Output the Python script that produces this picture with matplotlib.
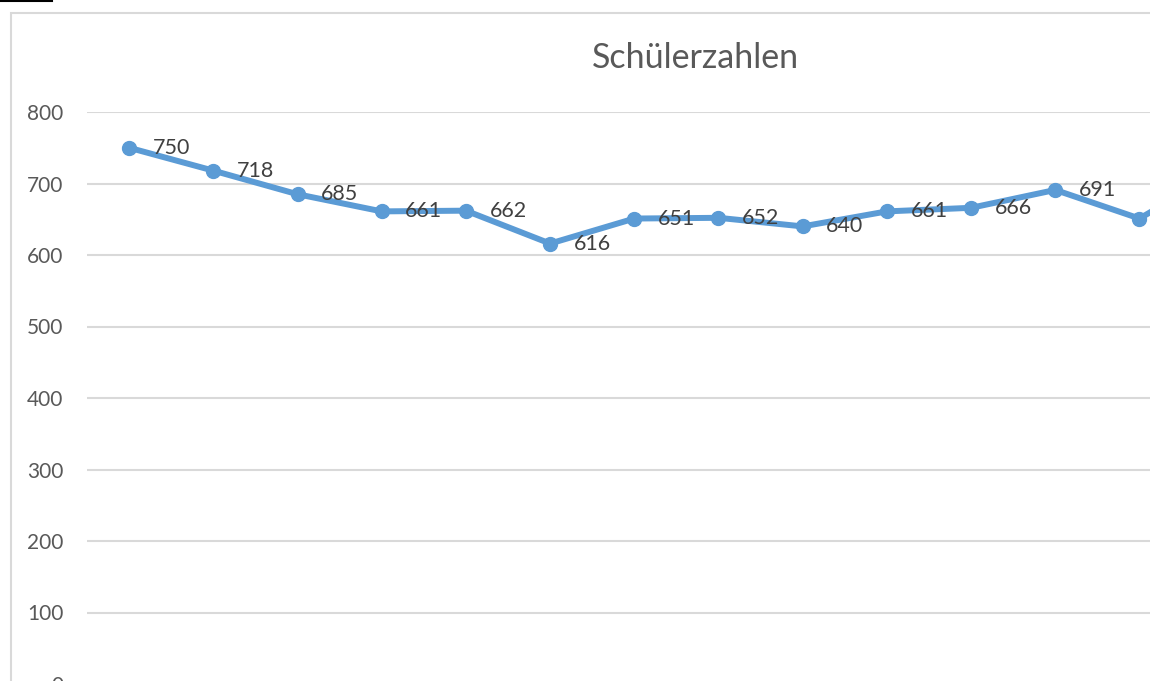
import matplotlib
matplotlib.use("Agg")
import matplotlib.pyplot as plt
from matplotlib.lines import Line2D
from matplotlib.patches import Rectangle

# Schülerzahlen (cropped Excel chart); last value lies beyond the visible area
jahre = list(range(14))
schueler = [750, 718, 685, 661, 662, 616, 651, 652, 640, 661, 666, 691, 651, 720]
y_ticks = [0, 100, 200, 300, 400, 500, 600, 700, 800]
n_sichtbar = 12   # labels that still fit inside the picture

plt.rcParams['font.family'] = ['Lato', 'DejaVu Sans']
grau = '#595959'
blau = '#5B9BD5'

W, H = 1150, 681
fig = plt.figure(figsize=(W / 100, H / 100), dpi=100)

# chart frame and the black line in the corner
fig.patches.append(Rectangle((11 / W, -0.1), 1.2, (H - 13) / H + 0.1,
                             transform=fig.transFigure, fill=False,
                             edgecolor='#D9D9D9', linewidth=1.5))
fig.lines.append(Line2D([0, 52 / W], [1 - 1 / H, 1 - 1 / H],
                        transform=fig.transFigure, color='black', linewidth=1.5))

cat_w = 84.2
left, top, bottom = 87, 112, 684
ax = fig.add_axes([left / W, (H - bottom) / H, len(jahre) * cat_w / W, (bottom - top) / H])

ax.plot(jahre, schueler, color=blau, linewidth=4.3, marker='o', markersize=10,
        solid_joinstyle='round', zorder=3)
for x, y in zip(jahre[:n_sichtbar], schueler[:n_sichtbar]):
    ax.annotate(str(y), (x, y), xytext=(17, 0), textcoords='offset points',
                ha='left', va='center', fontsize=15.5, color='#404040', zorder=4)

ax.set_xlim(-0.5, len(jahre) - 0.5)
ax.set_ylim(0, 800)
ax.set_yticks(y_ticks)
ax.set_xticks([])
ax.grid(axis='y', color='#D9D9D9', linewidth=1.5)
ax.set_axisbelow(True)
for s in ax.spines.values():
    s.set_visible(False)
ax.tick_params(axis='y', length=0, pad=17, labelsize=15, labelcolor=grau)

fig.text(695 / W, 1 - 58 / H, 'Schülerzahlen', ha='center', va='center',
         fontsize=24.5, color=grau)

fig.savefig('out.png', dpi=100)
